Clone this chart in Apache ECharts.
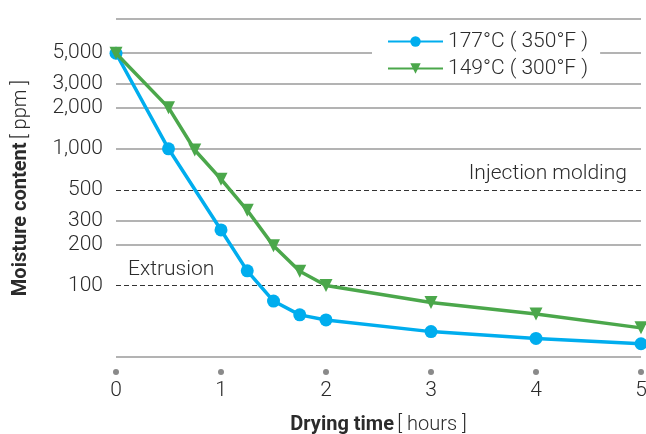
<!DOCTYPE html>
<html>
<head>
<meta charset="utf-8">
<script src="https://cdn.jsdelivr.net/npm/echarts@6/dist/echarts.min.js"></script>
<style>
  html, body { margin: 0; padding: 0; background: #fff; }
  #chart { width: 646px; height: 434px; }
</style>
</head>
<body>
<div id="chart"></div>
<script>
// drying curves
const hours177 = [0, 0.5, 1, 1.25, 1.5, 1.75, 2, 3, 4, 5]
const ppm177 = [5000, 1000, 255, 128, 77, 61, 56, 46, 41, 37.5]
const hours149 = [0, 0.5, 0.75, 1, 1.25, 1.5, 1.75, 2, 3, 4, 5]
const ppm149 = [5000, 2000, 980, 600, 355, 195, 127, 100, 75, 62, 49]

const yTicks = [100, 200, 300, 500, 1000, 2000, 3000, 5000]
const gridValues = [30, 200, 300, 1000, 2000, 3000, 5000, 8900]
const limitValues = [500, 100]
const limitLabels = ['Injection molding', 'Extrusion']

const FONT = 'Roboto'
const TEXT = '#2b2b2b'

const chart = echarts.init(document.getElementById('chart'))

function zip(xs, ys) {
  return xs.map((x, i) => [x, ys[i]])
}

const gridLines = gridValues.map(v => ({
  yAxis: v,
  lineStyle: { color: '#9a9a9a', type: 'solid', width: 1.5 },
  label: { show: false }
}))

const limitLines = limitValues.map((v, i) => ({
  yAxis: v,
  lineStyle: { color: '#333', type: [5, 3], width: 1 },
  label: {
    show: true,
    formatter: limitLabels[i],
    position: i === 0 ? 'insideEndTop' : 'insideStartTop',
    distance: i === 0 ? [14, 6] : [12, 5],
    color: TEXT,
    fontFamily: FONT,
    fontWeight: 300,
    fontSize: 21
  }
}))

const option = {
  backgroundColor: '#fff',
  animation: false,
  grid: { left: 116, right: 5, top: 19, bottom: 77, outerBoundsMode: 'none' },
  legend: {
    orient: 'vertical',
    left: 372,
    top: 27,
    padding: [4, 12, 4, 15],
    backgroundColor: '#fff',
    itemWidth: 55,
    itemHeight: 13,
    itemGap: 6,
    textStyle: { color: TEXT, fontFamily: FONT, fontWeight: 300, fontSize: 21 },
    data: ['177°C ( 350°F )', '149°C ( 300°F )']
  },
  xAxis: {
    type: 'value',
    min: 0,
    max: 5,
    interval: 1,
    name: '{b|Drying time} {n|[ hours ]}',
    nameLocation: 'middle',
    nameGap: 58,
    nameTextStyle: {
      rich: {
        b: { fontFamily: FONT, fontWeight: 'bold', fontSize: 20, color: TEXT },
        n: { fontFamily: FONT, fontWeight: 300, fontSize: 20, color: TEXT }
      }
    },
    axisLine: { show: false },
    axisTick: { show: false },
    splitLine: { show: false },
    axisLabel: {
      margin: 12,
      formatter: v => '{d| }\n{v|' + v + '}',
      rich: {
        d: { width: 6, height: 6, borderRadius: 3, backgroundColor: '#8a8a8a', fontSize: 4, lineHeight: 6, align: 'center' },
        v: { fontSize: 21, fontFamily: FONT, fontWeight: 300, color: TEXT, lineHeight: 32, align: 'center' }
      }
    }
  },
  yAxis: {
    type: 'log',
    min: 30,
    max: 8900,
    name: '{b|Moisture content} {n|[ ppm ]}',
    nameLocation: 'middle',
    nameGap: 85,
    nameRotate: 90,
    nameTextStyle: {
      rich: {
        b: { fontFamily: FONT, fontWeight: 'bold', fontSize: 20, color: TEXT },
        n: { fontFamily: FONT, fontWeight: 300, fontSize: 20, color: TEXT }
      }
    },
    axisLine: { show: false },
    axisTick: { show: false },
    splitLine: { show: false },
    axisLabel: {
      customValues: yTicks,
      margin: 13,
      color: TEXT,
      fontFamily: FONT,
      fontWeight: 300,
      fontSize: 21,
      formatter: v => Math.round(v).toLocaleString('en-US')
    }
  },
  series: [
    {
      name: '149°C ( 300°F )',
      type: 'line',
      data: zip(hours149, ppm149),
      symbol: 'triangle',
      symbolRotate: 180,
      symbolSize: 13,
      clip: false,
      z: 3,
      lineStyle: { color: '#4ba74b', width: 3.5 },
      itemStyle: { color: '#4ba74b' }
    },
    {
      name: '177°C ( 350°F )',
      type: 'line',
      data: zip(hours177, ppm177),
      symbol: 'circle',
      symbolSize: 13,
      clip: false,
      z: 2,
      lineStyle: { color: '#00adee', width: 3.5 },
      itemStyle: { color: '#00adee' },
      markLine: {
        silent: true,
        symbol: 'none',
        z: 1,
        data: gridLines.concat(limitLines)
      }
    }
  ]
}

chart.setOption(option)
</script>
</body>
</html>
